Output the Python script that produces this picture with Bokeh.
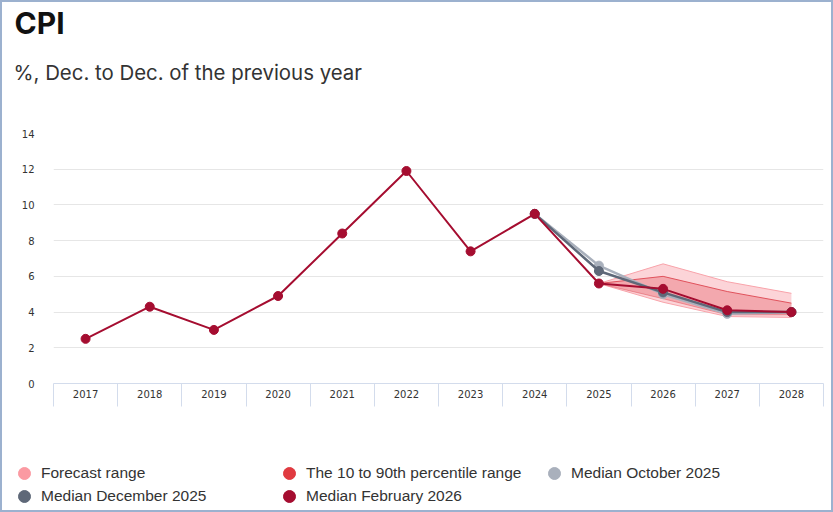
from bokeh.plotting import figure
from bokeh.models import Legend, LegendItem, Label, FixedTicker, Range1d
from bokeh.layouts import column
from bokeh.embed import file_html
from bokeh.resources import INLINE

# ---- data ----
years = [2017, 2018, 2019, 2020, 2021, 2022, 2023, 2024, 2025, 2026, 2027, 2028]
median_feb_2026 = [2.5, 4.3, 3.0, 4.9, 8.4, 11.9, 7.4, 9.5, 5.6, 5.3, 4.1, 4.0]

prev_years = [2024, 2025, 2026, 2027, 2028]
median_oct_2025 = [9.5, 6.6, 5.0, 3.9, 4.0]
median_dec_2025 = [9.5, 6.3, 5.1, 4.0, 4.0]

band_years = [2025, 2026, 2027, 2028]
range_low = [5.6, 4.55, 3.75, 3.7]
range_high = [5.6, 6.7, 5.7, 5.05]
pct_low = [5.6, 4.75, 3.85, 3.85]
pct_high = [5.6, 6.0, 5.15, 4.5]

y_ticks = [0, 2, 4, 6, 8, 10, 12, 14]

title_text = "CPI"
subtitle_text = "%, Dec. to Dec. of the previous year"
legend_row1 = ["Forecast range", "The 10 to 90th percentile range", "Median October 2025"]
legend_row2 = ["Median December 2025", "Median February 2026"]

# ---- colors ----
C_FEB = "#a50d30"
C_DEC = "#5e6878"
C_OCT = "#a9b0bc"
C_RANGE_FILL = "#fcd4d8"
C_RANGE_EDGE = "#f8a3aa"
C_PCT_FILL = "#f3a8ae"
C_PCT_EDGE = "#e0525c"
C_RANGE_LEG = "#fb9aa2"
C_PCT_LEG = "#e03a40"

W = 829

# ---- header (title + subtitle) ----
header = figure(width=W, height=121, output_backend="svg", toolbar_location=None,
                x_axis_type=None, y_axis_type=None, min_border=0, frame_align=False)
header.outline_line_color = None
header.add_layout(Label(x=12, y=101, x_units="screen", y_units="screen", text=title_text,
                        text_font="Inter", text_font_size="30px", text_font_style="bold",
                        text_color="#111111", text_baseline="alphabetic"))
header.add_layout(Label(x=11, y=51, x_units="screen", y_units="screen", text=subtitle_text,
                        text_font="Inter", text_font_size="20.4px",
                        text_color="#333333", text_baseline="alphabetic"))

# ---- main chart ----
p = figure(width=W, height=329, output_backend="svg", toolbar_location=None,
           x_range=Range1d(2016.5, 2028.5), y_range=Range1d(0, 14),
           min_border_left=51, min_border_right=8, min_border_top=10,
           min_border_bottom=69, frame_align=False)
p.outline_line_color = None

p.xaxis.ticker = FixedTicker(ticks=years, minor_ticks=[y - 0.5 for y in years] + [years[-1] + 0.5])
p.xaxis.major_tick_line_color = None
p.xaxis.major_tick_out = 0
p.xaxis.major_tick_in = 0
p.xaxis.minor_tick_in = 0
p.xaxis.minor_tick_out = 23
p.xaxis.minor_tick_line_color = "#d3dcec"
p.xaxis.axis_line_color = "#d3dcec"
p.xaxis.major_label_standoff = -17
p.xaxis.major_label_text_font = "DejaVu Sans"
p.xaxis.major_label_text_font_size = "10px"
p.xaxis.major_label_text_color = "#333333"

p.yaxis.ticker = FixedTicker(ticks=y_ticks)
p.yaxis.axis_line_color = None
p.yaxis.major_tick_line_color = None
p.yaxis.minor_tick_line_color = None
p.yaxis.major_label_standoff = 13
p.yaxis.major_label_text_font = "DejaVu Sans"
p.yaxis.major_label_text_font_size = "10px"
p.yaxis.major_label_text_color = "#333333"

p.xgrid.grid_line_color = None
p.ygrid.grid_line_color = "#e6e6e6"

p.varea(x=band_years, y1=range_low, y2=range_high, fill_color=C_RANGE_FILL)
p.line(band_years, range_high, line_color=C_RANGE_EDGE, line_width=1)
p.line(band_years, range_low, line_color=C_RANGE_EDGE, line_width=1)
p.varea(x=band_years, y1=pct_low, y2=pct_high, fill_color=C_PCT_FILL)
p.line(band_years, pct_high, line_color=C_PCT_EDGE, line_width=1)
p.line(band_years, pct_low, line_color=C_PCT_EDGE, line_width=1, line_alpha=0.5)

p.line(prev_years, median_oct_2025, line_color=C_OCT, line_width=2.5)
p.scatter(prev_years, median_oct_2025, size=9, fill_color=C_OCT, line_color=C_OCT)
p.line(prev_years, median_dec_2025, line_color=C_DEC, line_width=2.5)
p.scatter(prev_years, median_dec_2025, size=9, fill_color=C_DEC, line_color=C_DEC)
p.line(years, median_feb_2026, line_color=C_FEB, line_width=2)
p.scatter(years, median_feb_2026, size=9, fill_color=C_FEB, line_color=C_FEB)

# ---- legend strip ----
leg = figure(width=W, height=58, output_backend="svg", toolbar_location=None,
             x_axis_type=None, y_axis_type=None, min_border=0, frame_align=False)
leg.outline_line_color = None
proxies = []
for xs, ys, c in [(band_years, range_high, C_RANGE_LEG), (band_years, pct_high, C_PCT_LEG),
                  (prev_years, median_oct_2025, C_OCT), (prev_years, median_dec_2025, C_DEC),
                  (years, median_feb_2026, C_FEB)]:
    r = leg.scatter(xs, ys, size=9, fill_color=c, line_color=c)
    r.visible = False
    proxies.append(r)

leg_style = dict(orientation="horizontal", glyph_width=30, glyph_height=30,
                 label_standoff=2, label_width=233, label_height=20, spacing=0,
                 padding=0, margin=0, border_line_color=None, background_fill_alpha=0,
                 label_text_font="Liberation Sans", label_text_font_size="15.5px",
                 label_text_color="#333333")
legend1 = Legend(items=[LegendItem(label=l, renderers=[r]) for l, r in zip(legend_row1, proxies[:3])],
                 location=(7, 22), **leg_style)
legend2 = Legend(items=[LegendItem(label=l, renderers=[r]) for l, r in zip(legend_row2, proxies[3:])],
                 location=(7, -1), **leg_style)
leg.add_layout(legend1)
leg.add_layout(legend2)

layout = column(header, p, leg, spacing=0,
                styles={"border": "2px solid #9cb1cf"})
open("out.html", "w").write(file_html(layout, INLINE))
